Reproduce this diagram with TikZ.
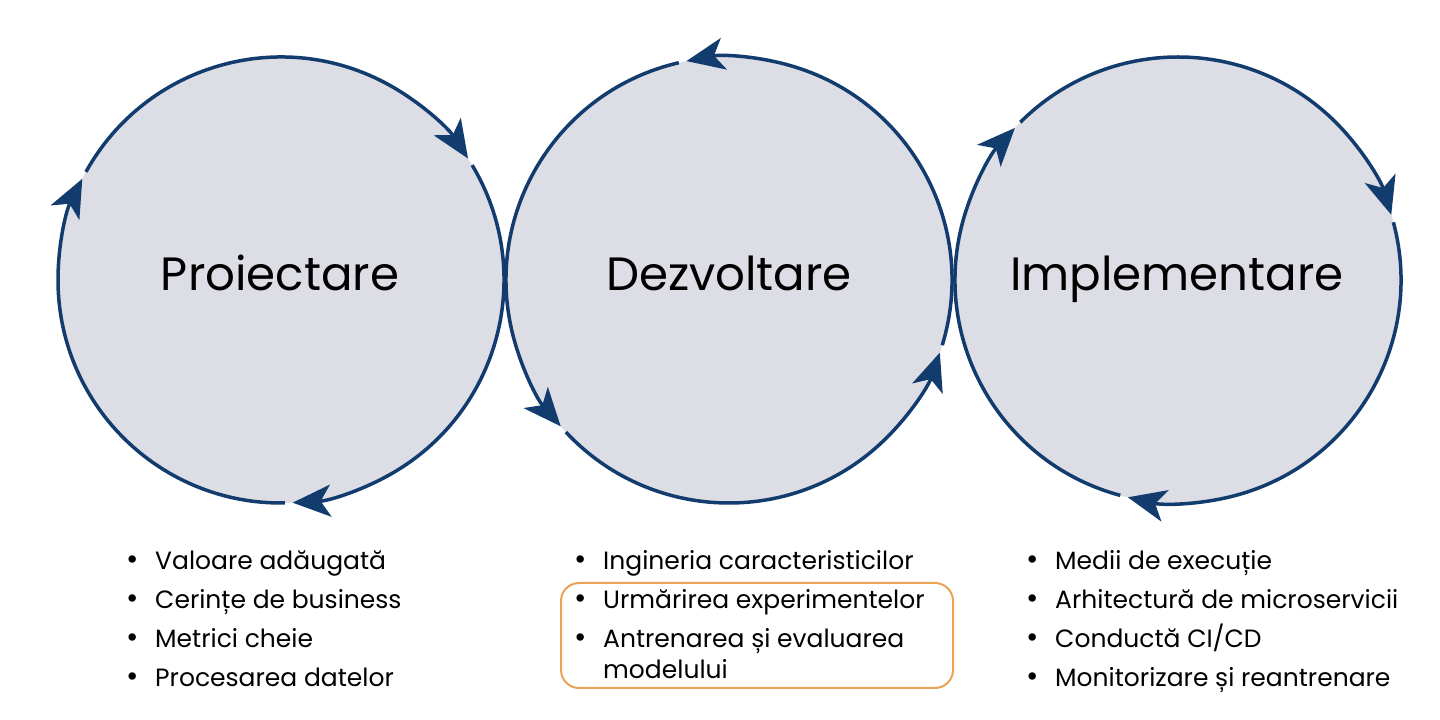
\documentclass[tikz,border=0pt]{standalone}
\usepackage{fontspec}
\setmainfont{Poppins}
\usetikzlibrary{arrows.meta}
\definecolor{navy}{RGB}{18,60,110}
\definecolor{disc}{RGB}{220,221,229}
\definecolor{frameorange}{RGB}{232,164,84}
\tikzset{
  phase/.style={circle, fill=disc, minimum size=446pt, inner sep=0pt},
  ringarrow/.style={navy, line width=3.5pt, -{Stealth[length=38pt, width=32pt, inset=10pt]}},
  title/.style={anchor=base, inner sep=0pt, font=\fontsize{46.7}{56}\selectfont},
  item/.style={anchor=base west, inner sep=0pt, font=\fontsize{25}{30}\selectfont},
  dot/.style={anchor=base, inner sep=0pt, font=\fontsize{30}{30}\selectfont}
}
\begin{document}
\begin{tikzpicture}[x=1pt,y=1pt]
  \useasboundingbox (0,0) rectangle (1440,720);

  \node[phase] (p) at (281,440) {};
  \node[phase] (d) at (729,440) {};
  \node[phase] (i) at (1178,440) {};

  % proiectare: clockwise
  \foreach \t in {153,33,-87}
    \draw[ringarrow] (p.center) ++({\t+118}:223) arc[start angle={\t+118}, end angle=\t, radius=223];
  % dezvoltare: counter-clockwise
  \foreach \t in {101,221,341}
    \draw[ringarrow] (d.center) ++({\t-118}:223) arc[start angle={\t-118}, end angle=\t, radius=223];
  % implementare: clockwise
  \foreach \t in {137,17,-103}
    \draw[ringarrow] (i.center) ++({\t+118}:223) arc[start angle={\t+118}, end angle=\t, radius=223];

  \node[title] (tp) at (280,429) {Proiectare};
  \node[title] (td) at (729,429) {Dezvoltare};
  \node[title] (ti) at (1177,429) {Implementare};

  % lists
  \foreach \txt [count=\k] in {Valoare adăugată, Cerințe de business, Metrici cheie, Procesarea datelor} {
    \node[dot] (pb\k) at (133,{189-\k*39}) {•};
    \node[item] (pl\k) at (155,{189-\k*39}) {\txt};
  }
  \foreach \txt [count=\k] in {Ingineria caracteristicilor, Urmărirea experimentelor, Antrenarea și evaluarea} {
    \node[dot] (db\k) at (581,{189-\k*39}) {•};
    \node[item] (dl\k) at (603,{189-\k*39}) {\txt};
  }
  \node[item] (dl4) at (603,41) {modelului};
  \foreach \txt [count=\k] in {Medii de execuție, Arhitectură de microservicii, Conductă CI/CD, Monitorizare și reantrenare} {
    \node[dot] (ib\k) at (1033,{189-\k*39}) {•};
    \node[item] (il\k) at (1055,{189-\k*39}) {\txt};
  }

  \draw[frameorange, line width=2pt, rounded corners=18pt] (561,137) rectangle (953,32);
\end{tikzpicture}
\end{document}
